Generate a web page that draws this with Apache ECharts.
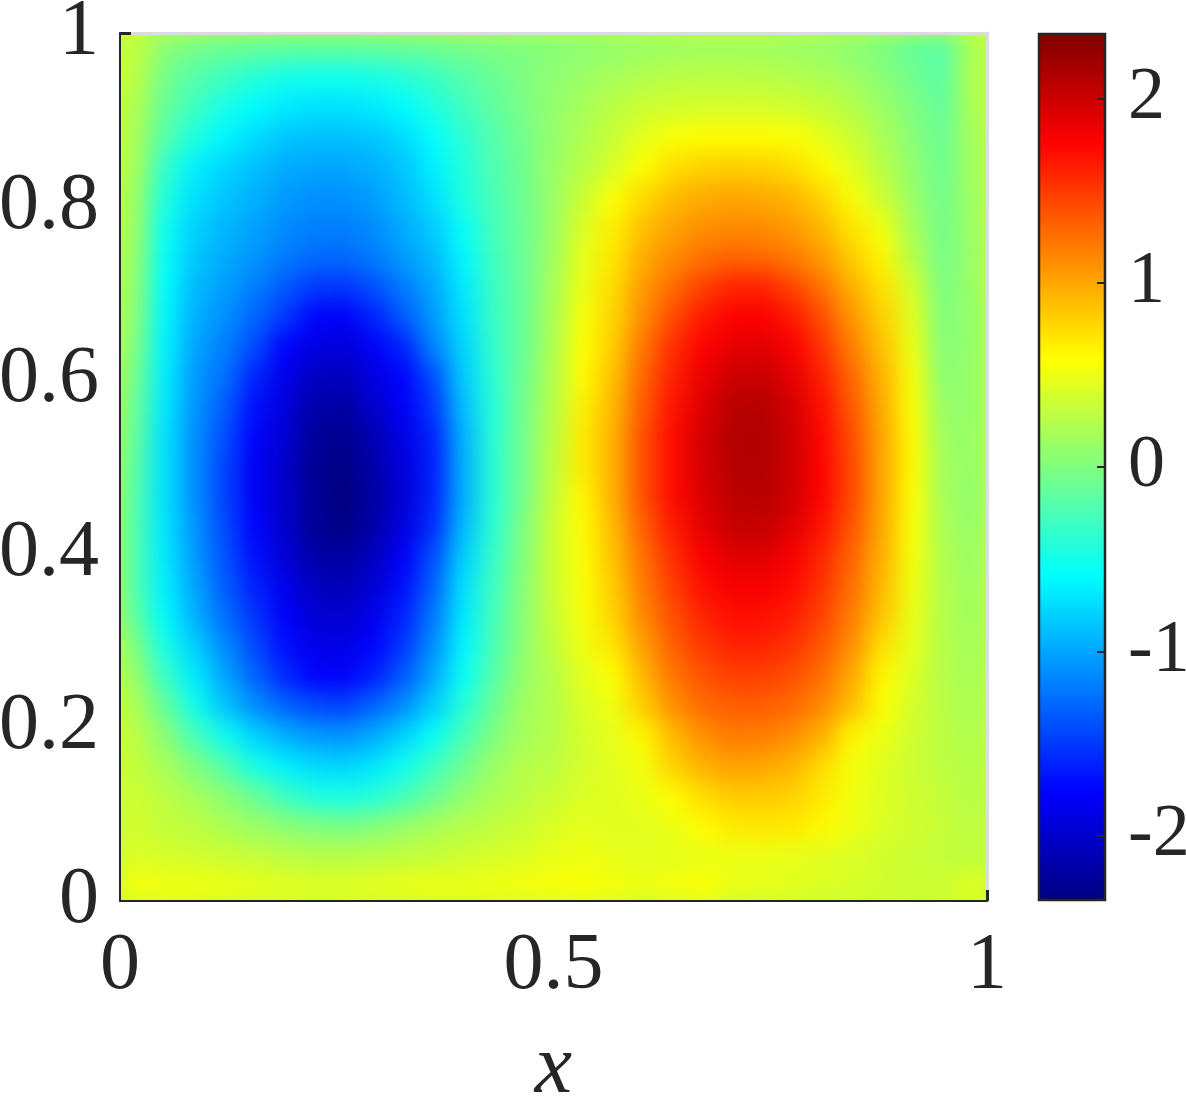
<!DOCTYPE html>
<html><head><meta charset="utf-8">
<style>html,body{margin:0;padding:0;background:#fff}#c{width:1186px;height:1096px}</style>
<script src="https://cdn.jsdelivr.net/npm/echarts@6/dist/echarts.min.js"></script>
</head><body><div id="c"></div>
<script>
// Field values, top row first, left to right.
const r00=[.3,.05,-.05,-.1,-.13,-.15,-.15,-.15,-.14,-.12,-.09,-.05,-.02,0,.03,.06,.09,.12,.14,.15,.15,.15,.13,.1,.06,-.02,-.12,-.18,.2];
const r01=[.28,-.05,-.2,-.3,-.42,-.5,-.52,-.52,-.48,-.42,-.32,-.2,-.1,0,.07,.13,.19,.24,.27,.28,.28,.27,.25,.21,.14,.05,-.07,-.17,.22];
const r02=[.22,-.12,-.3,-.48,-.6,-.68,-.72,-.72,-.68,-.6,-.45,-.3,-.15,-.02,.09,.18,.28,.35,.39,.4,.4,.4,.38,.33,.25,.13,0,-.13,.2];
const r03=[.2,-.2,-.45,-.62,-.75,-.85,-.88,-.88,-.85,-.75,-.58,-.38,-.2,-.05,.1,.22,.34,.47,.56,.6,.6,.6,.57,.48,.35,.2,.04,-.1,.17];
const r04=[.18,-.35,-.65,-.78,-.88,-.97,-1,-1,-.95,-.85,-.65,-.43,-.23,-.07,.12,.26,.41,.59,.74,.8,.82,.8,.75,.6,.45,.27,.08,-.08,.15];
const r05=[.15,-.45,-.72,-.85,-.95,-1.05,-1.1,-1.1,-1.03,-.9,-.72,-.45,-.25,-.08,.12,.35,.57,.76,.9,.97,1,.98,.92,.78,.56,.35,.12,-.06,.14];
const r06=[.13,-.53,-.8,-.92,-1.02,-1.12,-1.18,-1.18,-1.12,-.97,-.82,-.55,-.27,-.1,.13,.42,.65,.88,1.02,1.1,1.13,1.12,1.05,.92,.7,.52,.18,-.05,.13];
const r07=[.1,-.56,-.85,-.98,-1.08,-1.2,-1.27,-1.28,-1.2,-1.05,-.9,-.62,-.3,-.1,.15,.48,.7,.97,1.13,1.25,1.3,1.28,1.2,1.05,.82,.62,.25,-.04,.12];
const r08=[.08,-.59,-.9,-1.03,-1.18,-1.35,-1.5,-1.52,-1.4,-1.2,-.98,-.68,-.32,-.1,.18,.5,.75,1.05,1.27,1.47,1.6,1.6,1.45,1.23,.95,.72,.4,-.02,.12];
const r09=[.05,-.62,-.95,-1.1,-1.3,-1.5,-1.75,-1.8,-1.6,-1.35,-1.05,-.72,-.33,-.1,.2,.55,.78,1.12,1.42,1.65,1.76,1.78,1.65,1.4,1.07,.8,.45,0,.1];
const r10=[0,-.64,-1,-1.18,-1.42,-1.76,-1.9,-1.93,-1.8,-1.6,-1.15,-.78,-.35,-.1,.22,.58,.82,1.22,1.55,1.76,1.88,1.9,1.78,1.52,1.18,.87,.5,.03,.1];
const r11=[-.05,-.66,-1.05,-1.25,-1.6,-1.85,-2.05,-2.08,-1.9,-1.75,-1.4,-.82,-.38,-.08,.24,.6,.88,1.3,1.62,1.85,2,2.02,1.88,1.62,1.28,.93,.55,.06,.1];
const r12=[-.1,-.68,-1.08,-1.33,-1.7,-1.92,-2.15,-2.2,-2,-1.8,-1.5,-.88,-.4,-.06,.26,.65,.92,1.35,1.68,1.92,2.08,2.1,1.95,1.7,1.35,.97,.57,.1,.1];
const r13=[-.13,-.72,-1.1,-1.4,-1.76,-1.97,-2.22,-2.28,-2.1,-1.88,-1.6,-.93,-.4,-.05,.28,.68,.95,1.4,1.72,1.96,2.12,2.13,1.98,1.73,1.4,1,.6,.14,.1];
const r14=[-.17,-.72,-1.1,-1.45,-1.8,-2,-2.27,-2.33,-2.15,-1.92,-1.62,-.95,-.4,-.05,.3,.68,.95,1.4,1.72,1.95,2.1,2.12,1.98,1.75,1.42,1,.6,.16,.1];
const r15=[-.2,-.72,-1.1,-1.45,-1.8,-2,-2.25,-2.35,-2.2,-1.95,-1.6,-.95,-.4,-.05,.33,.62,.95,1.4,1.72,1.93,2.07,2.1,1.97,1.75,1.42,1,.58,.18,.08];
const r16=[-.2,-.7,-1.08,-1.42,-1.75,-2,-2.25,-2.32,-2.15,-1.9,-1.55,-.9,-.38,0,.35,.6,.9,1.32,1.65,1.88,2.02,2.03,1.9,1.68,1.37,.98,.57,.2,.1];
const r17=[-.22,-.68,-1.05,-1.38,-1.7,-1.95,-2.15,-2.2,-2.05,-1.8,-1.4,-.8,-.35,.02,.35,.58,.87,1.25,1.55,1.78,1.9,1.9,1.8,1.58,1.3,.95,.55,.22,.12];
const r18=[-.2,-.65,-1,-1.33,-1.62,-1.85,-2.05,-2.1,-1.95,-1.7,-1.3,-.72,-.3,.04,.35,.57,.82,1.2,1.48,1.7,1.8,1.8,1.72,1.52,1.25,.9,.52,.24,.14];
const r19=[-.15,-.6,-.95,-1.25,-1.52,-1.78,-1.95,-1.98,-1.85,-1.6,-1.2,-.68,-.28,.05,.33,.55,.78,1.13,1.4,1.6,1.7,1.7,1.63,1.45,1.18,.85,.5,.25,.15];
const r20=[0,-.48,-.8,-1.12,-1.42,-1.7,-1.85,-1.88,-1.75,-1.5,-1.1,-.62,-.25,.07,.3,.52,.7,1.03,1.32,1.5,1.6,1.6,1.53,1.35,1.1,.72,.47,.25,.17];
const r21=[.12,-.32,-.68,-1,-1.3,-1.58,-1.76,-1.78,-1.62,-1.35,-.98,-.55,-.2,.1,.25,.46,.58,.92,1.22,1.38,1.47,1.47,1.4,1.25,.98,.62,.42,.25,.18];
const r22=[.22,-.12,-.5,-.85,-1.1,-1.3,-1.42,-1.45,-1.3,-1.1,-.8,-.42,-.1,.15,.25,.42,.52,.82,1.1,1.27,1.33,1.33,1.27,1.13,.88,.57,.4,.26,.2];
const r23=[.28,.05,-.25,-.52,-.78,-.95,-1.05,-1.08,-.97,-.78,-.55,-.25,0,.18,.25,.4,.47,.62,.9,1.1,1.2,1.18,1.1,.95,.62,.5,.37,.28,.22];
const r24=[.32,.18,0,-.2,-.48,-.65,-.75,-.78,-.7,-.52,-.3,-.08,.12,.25,.28,.4,.46,.53,.8,.95,1.02,1,.93,.75,.54,.44,.35,.28,.25];
const r25=[.35,.28,.18,.05,-.1,-.3,-.45,-.48,-.42,-.28,-.1,.08,.2,.28,.35,.42,.44,.5,.6,.75,.83,.83,.8,.68,.52,.43,.37,.32,.25];
const r26=[.38,.32,.28,.2,.12,.05,0,-.03,.02,.1,.18,.25,.3,.35,.42,.47,.44,.45,.5,.6,.68,.7,.68,.62,.5,.42,.37,.33,.28];
const r27=[.42,.4,.38,.35,.32,.28,.25,.25,.27,.3,.33,.36,.4,.43,.48,.52,.48,.46,.47,.48,.5,.5,.48,.45,.42,.38,.35,.32,.29];
const r28=[.54,.52,.52,.5,.48,.45,.44,.44,.46,.48,.5,.5,.52,.53,.55,.57,.54,.5,.53,.58,.48,.47,.44,.42,.4,.38,.36,.36,.45];
const fieldRows=[r00,r01,r02,r03,r04,r05,r06,r07,r08,r09,r10,r11,r12,r13,r14,r15,r16,r17,r18,r19,r20,r21,r22,r23,r24,r25,r26,r27,r28];
const xTicks=[0,0.5,1];
const yTicks=[0,0.2,0.4,0.6,0.8,1];
const barTicks=[-2,-1,0,1,2];
const vMin=-2.35, vMax=2.35;
const jet=['#000080','#0000ff','#0080ff','#00ffff','#80ff80','#ffff00','#ff8000','#ff0000','#800000'];

const ink='#262626', serif='"Liberation Serif",serif';
const cells=[];
fieldRows.forEach((row,j)=>row.forEach((v,i)=>cells.push([i,j,v])));
const colNames=fieldRows[0].map((_,i)=>String(i)), rowNames=fieldRows.map((_,j)=>String(j));
const chart=echarts.init(document.getElementById('c'),null,{renderer:'canvas'});
chart.setOption({
  animation:false,
  backgroundColor:'#fff',
  textStyle:{fontFamily:serif},
  grid:[
    {left:120,top:33,width:867,height:868,show:true,backgroundColor:'#c8ff38',borderWidth:0,outerBoundsMode:'none'},
    {left:1039,top:34,width:66,height:866,show:true,backgroundColor:'transparent',borderColor:ink,borderWidth:2.5,zlevel:2,z:10,outerBoundsMode:'none'}
  ],
  xAxis:[
    {type:'category',gridIndex:0,position:'top',data:colNames,zlevel:2,axisLine:{show:true,onZero:false,lineStyle:{color:'#dcdcdc',width:3}},axisTick:{show:false},axisLabel:{show:false},splitLine:{show:false}},
    {type:'value',gridIndex:0,position:'bottom',min:0,max:1,zlevel:2,z:5,
      axisLine:{show:true,onZero:false,lineStyle:{color:ink,width:2}},
      axisTick:{show:true,inside:true,length:11,customValues:[1],lineStyle:{color:ink,width:3}},
      axisLabel:{show:true,customValues:xTicks,color:ink,fontSize:80,fontFamily:serif,margin:26,hideOverlap:false,formatter:v=>String(v)},
      splitLine:{show:false},
      name:'x',nameLocation:'middle',nameGap:127,nameTextStyle:{color:ink,fontSize:84,fontStyle:'italic',fontFamily:serif}},
    {type:'value',gridIndex:1,min:0,max:1,show:false}
  ],
  yAxis:[
    {type:'category',gridIndex:0,position:'right',inverse:true,data:rowNames,zlevel:2,axisLine:{show:true,onZero:false,lineStyle:{color:'#dcdcdc',width:3}},axisTick:{show:false},axisLabel:{show:false},splitLine:{show:false}},
    {type:'value',gridIndex:0,position:'left',min:0,max:1,zlevel:2,z:5,
      axisLine:{show:true,onZero:false,lineStyle:{color:ink,width:2}},
      axisTick:{show:true,inside:true,length:11,customValues:[1],lineStyle:{color:ink,width:3}},
      axisLabel:{show:true,customValues:yTicks,color:ink,fontSize:80,fontFamily:serif,margin:21,padding:[0,0,16,0],hideOverlap:false,formatter:v=>String(v)},
      splitLine:{show:false}},
    {type:'value',gridIndex:1,position:'right',min:vMin,max:vMax,zlevel:2,z:12,
      axisLine:{show:false,onZero:false},
      axisTick:{show:true,inside:true,length:8,customValues:barTicks,lineStyle:{color:ink,width:2}},
      axisLabel:{show:true,customValues:barTicks,color:ink,fontSize:74,fontFamily:serif,margin:23,padding:[0,0,12,0],hideOverlap:false,formatter:v=>String(v)},
      splitLine:{show:false}}
  ],
  visualMap:{type:'continuous',show:true,seriesIndex:0,min:vMin,max:vMax,calculable:false,
    left:1039,top:34,padding:0,itemWidth:66,itemHeight:866,showLabel:false,text:null,inRange:{color:jet}},
  series:[{type:'heatmap',xAxisIndex:0,yAxisIndex:0,data:cells,zlevel:1,progressive:0,silent:true,emphasis:{disabled:true},itemStyle:{borderWidth:0}}]
});
// soften the 29x29 cell mosaic into the continuous look of the reference
const layer=document.querySelector('canvas[data-zr-dom-id="zr_1"]');
if(layer){layer.style.filter='blur(11px)';layer.style.clipPath='inset(34px 199px 196px 121px)';}
</script></body></html>
